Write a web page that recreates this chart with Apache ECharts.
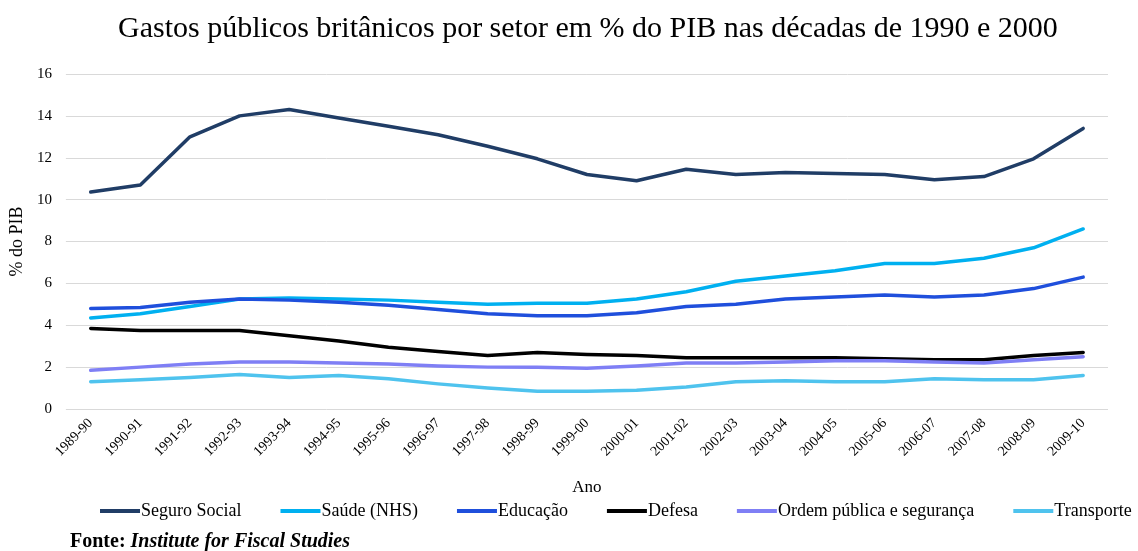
<!DOCTYPE html>
<html>
<head>
<meta charset="utf-8">
<script src="https://cdn.jsdelivr.net/npm/echarts@6/dist/echarts.min.js"></script>
<style>
  html, body { margin: 0; padding: 0; background: #fff; }
  #chart { width: 1138px; height: 551px; }
</style>
</head>
<body>
<div id="chart"></div>
<script>
const years = ['1989-90', '1990-91', '1991-92', '1992-93', '1993-94', '1994-95', '1995-96',
  '1996-97', '1997-98', '1998-99', '1999-00', '2000-01', '2001-02', '2002-03', '2003-04',
  '2004-05', '2005-06', '2006-07', '2007-08', '2008-09', '2009-10'];

const seguroSocial = [10.36, 10.7, 13.0, 14.0, 14.3, 13.9, 13.5, 13.1, 12.55, 11.95, 11.2,
  10.9, 11.45, 11.2, 11.3, 11.25, 11.2, 10.95, 11.1, 11.95, 13.4];
const saude = [4.35, 4.55, 4.9, 5.25, 5.3, 5.25, 5.2, 5.1, 5.0, 5.05, 5.05,
  5.25, 5.6, 6.1, 6.35, 6.6, 6.95, 6.95, 7.2, 7.7, 8.6];
const educacao = [4.8, 4.85, 5.1, 5.25, 5.2, 5.1, 4.95, 4.75, 4.55, 4.45, 4.45,
  4.6, 4.9, 5.0, 5.25, 5.35, 5.45, 5.35, 5.45, 5.75, 6.3];
const defesa = [3.85, 3.75, 3.75, 3.75, 3.5, 3.25, 2.95, 2.75, 2.55, 2.7, 2.6,
  2.55, 2.45, 2.45, 2.45, 2.45, 2.4, 2.35, 2.35, 2.55, 2.7];
const ordemPublica = [1.85, 2.0, 2.15, 2.25, 2.25, 2.2, 2.15, 2.05, 2.0, 2.0, 1.95,
  2.05, 2.2, 2.2, 2.25, 2.3, 2.3, 2.25, 2.2, 2.35, 2.5];
const transporte = [1.3, 1.4, 1.5, 1.65, 1.5, 1.6, 1.45, 1.2, 1.0, 0.85, 0.85,
  0.9, 1.05, 1.3, 1.35, 1.3, 1.3, 1.45, 1.4, 1.4, 1.6];

const seriesDefs = [
  ['Seguro Social', seguroSocial, '#203d66'],
  ['Saúde (NHS)', saude, '#00b0f0'],
  ['Educação', educacao, '#1f4fdc'],
  ['Defesa', defesa, '#000000'],
  ['Ordem pública e segurança', ordemPublica, '#7f7ff5'],
  ['Transporte', transporte, '#4fc3ee']
];

const font = '"Liberation Serif", "Times New Roman", serif';
const chart = echarts.init(document.getElementById('chart'), null, { renderer: 'canvas' });

chart.setOption({
  animation: false,
  backgroundColor: '#fff',
  textStyle: { fontFamily: font, color: '#000' },
  title: {
    text: 'Gastos públicos britânicos por setor em % do PIB nas décadas de 1990 e 2000',
    left: 113,
    top: 9,
    textStyle: { fontFamily: font, fontSize: 30, fontWeight: 'normal', color: '#000' }
  },
  legend: {
    top: 502,
    left: 100,
    width: 1038,
    padding: 0,
    itemWidth: 40,
    itemHeight: 4,
    itemGap: 39,
    icon: 'rect',
    textStyle: { fontFamily: font, fontSize: 18, color: '#000', padding: [0, 0, 0, -4] },
    data: seriesDefs.map(d => d[0])
  },
  graphic: [{
    type: 'text',
    left: 70,
    top: 532,
    style: {
      rich: {
        b: { fontFamily: font, fontSize: 20, fontWeight: 'bold', fill: '#000' },
        bi: { fontFamily: font, fontSize: 20, fontWeight: 'bold', fontStyle: 'italic', fill: '#000' }
      },
      text: '{b|Fonte: }{bi|Institute for Fiscal Studies}'
    }
  }],
  grid: { left: 65, right: 30, top: 74, bottom: 142, containLabel: false },
  xAxis: {
    type: 'category',
    data: years,
    boundaryGap: true,
    name: 'Ano',
    nameLocation: 'middle',
    nameGap: 70,
    nameTextStyle: { fontFamily: font, fontSize: 17, color: '#000' },
    axisLine: { show: false },
    axisTick: { show: false },
    axisLabel: { rotate: 45, fontFamily: font, fontSize: 14, color: '#000', margin: 12 }
  },
  yAxis: {
    type: 'value',
    min: 0,
    max: 16,
    interval: 2,
    name: '% do PIB',
    nameLocation: 'middle',
    nameGap: 36,
    nameTextStyle: { fontFamily: font, fontSize: 18, color: '#000' },
    axisLine: { show: false },
    axisTick: { show: false },
    axisLabel: { fontFamily: font, fontSize: 15, color: '#000', margin: 14 },
    splitLine: { lineStyle: { color: '#d9d9d9', width: 1 } }
  },
  series: seriesDefs.map(([name, data, color]) => ({
    name,
    type: 'line',
    data,
    symbol: 'none',
    smooth: false,
    lineStyle: { color, width: 3.5, join: 'round', cap: 'round' },
    itemStyle: { color }
  }))
});
</script>
</body>
</html>
